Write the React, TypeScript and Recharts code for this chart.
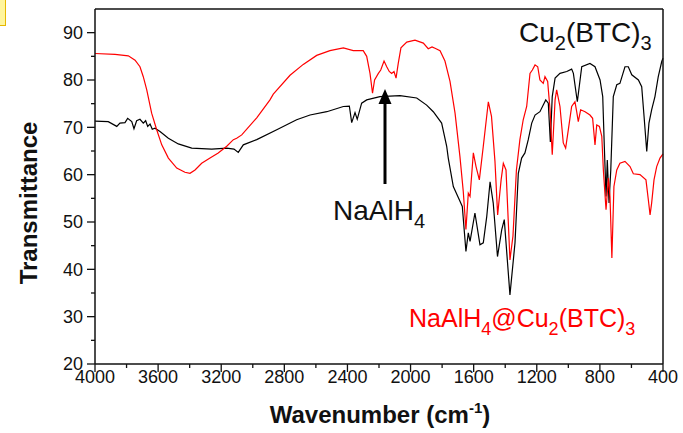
import React from "react";
import { LineChart, Line, XAxis, YAxis } from "recharts";

const FONT = "'Liberation Sans', Arial, Helvetica, sans-serif";

// Cu2(BTC)3 spectrum (black)
const cuWn = [4000, 3916, 3862, 3842, 3810, 3793, 3767, 3753, 3736, 3715, 3694, 3679, 3666, 3651, 3637, 3620, 3588, 3535, 3472, 3387, 3260, 3165, 3119, 3092, 3060, 2975, 2848, 2722, 2637, 2531, 2426, 2388, 2373, 2352, 2338, 2310, 2278, 2194, 2067, 1961, 1898, 1856, 1803, 1771, 1761, 1729, 1691, 1672, 1649, 1634, 1623, 1592, 1560, 1539, 1517, 1496, 1476, 1449, 1422, 1406, 1370, 1338, 1317, 1296, 1275, 1254, 1232, 1211, 1180, 1159, 1143, 1127, 1114, 1102, 1084, 1053, 1010, 979, 968, 943, 915, 863, 831, 799, 782, 772, 761, 753, 742, 731, 715, 693, 673, 641, 620, 598, 556, 535, 520, 503, 489, 472, 451, 430, 408, 400];
const cuT = [71.3, 71.2, 70.2, 70.9, 71.0, 71.9, 71.2, 69.7, 71.4, 71.7, 70.9, 71.4, 70.2, 70.7, 69.6, 69.8, 69.1, 67.7, 66.5, 65.6, 65.4, 65.6, 65.4, 64.7, 66.3, 67.4, 69.5, 71.6, 72.6, 73.3, 74.4, 74.5, 71.0, 73.1, 71.7, 75.1, 75.8, 76.5, 76.7, 76.2, 74.7, 73.3, 70.9, 66.0, 63.5, 57.5, 54.7, 53.3, 43.8, 47.7, 45.9, 51.9, 45.2, 45.6, 51.2, 58.5, 54.0, 42.7, 48.4, 50.5, 34.6, 45.6, 60.3, 63.5, 64.6, 67.4, 70.9, 72.6, 73.3, 74.7, 75.8, 75.1, 66.9, 76.5, 80.4, 81.4, 81.8, 82.3, 81.4, 75.4, 82.8, 83.5, 82.8, 80.0, 76.5, 66.0, 55.4, 63.1, 54.0, 61.0, 76.5, 79.0, 79.3, 82.8, 82.8, 81.1, 80.0, 78.6, 72.3, 64.9, 70.9, 73.7, 76.5, 80.7, 83.9, 84.6];

// NaAlH4@Cu2(BTC)3 spectrum (red)
const mixWn = [4000, 3873, 3789, 3746, 3715, 3694, 3672, 3641, 3609, 3577, 3535, 3482, 3430, 3398, 3366, 3324, 3271, 3219, 3165, 3123, 3102, 3070, 2975, 2891, 2870, 2764, 2680, 2595, 2511, 2426, 2363, 2300, 2278, 2257, 2241, 2228, 2204, 2189, 2168, 2151, 2135, 2120, 2105, 2092, 2078, 2061, 2024, 1972, 1919, 1888, 1864, 1845, 1813, 1782, 1750, 1718, 1687, 1666, 1649, 1634, 1623, 1602, 1585, 1564, 1539, 1507, 1487, 1465, 1448, 1426, 1412, 1395, 1370, 1351, 1329, 1307, 1286, 1264, 1243, 1228, 1211, 1194, 1180, 1159, 1148, 1131, 1116, 1102, 1084, 1074, 1053, 1032, 1017, 1000, 979, 958, 947, 937, 922, 894, 863, 846, 831, 820, 803, 788, 778, 761, 746, 736, 724, 711, 693, 673, 641, 609, 588, 546, 508, 493, 482, 472, 457, 440, 419, 400];
const mixT = [85.6, 85.4, 85.1, 84.2, 82.8, 80.7, 77.9, 73.0, 69.5, 66.3, 63.5, 61.4, 60.5, 60.3, 61.0, 62.4, 63.5, 64.6, 66.0, 67.4, 67.7, 68.4, 72.0, 75.8, 77.0, 81.0, 83.3, 85.2, 86.2, 86.8, 86.2, 86.2, 85.0, 81.4, 77.2, 80.0, 81.4, 82.1, 84.0, 82.8, 81.8, 81.4, 81.8, 80.4, 83.5, 86.8, 88.0, 88.4, 87.8, 86.6, 87.0, 86.7, 86.2, 84.0, 79.7, 73.0, 63.8, 56.5, 48.4, 56.1, 55.4, 64.6, 61.7, 58.9, 66.0, 75.4, 72.3, 62.8, 51.5, 58.9, 62.4, 61.0, 42.0, 47.0, 61.0, 67.4, 71.6, 74.4, 81.4, 82.1, 83.2, 82.8, 80.0, 79.3, 80.7, 79.7, 73.7, 64.2, 75.8, 77.9, 74.4, 66.7, 65.6, 69.5, 74.4, 75.4, 73.3, 71.2, 73.7, 73.3, 72.6, 71.9, 66.3, 70.5, 70.2, 68.1, 61.0, 52.6, 59.3, 55.4, 42.4, 57.5, 61.0, 62.4, 62.8, 61.7, 60.2, 60.0, 58.9, 54.7, 51.5, 54.0, 58.9, 61.7, 63.5, 64.4];

const xMajor = [4000, 3600, 3200, 2800, 2400, 2000, 1600, 1200, 800, 400];
const xTicks = [4000, 3800, 3600, 3400, 3200, 3000, 2800, 2600, 2400, 2200, 2000, 1800, 1600, 1400, 1200, 1000, 800, 600, 400];
const yMajor = [20, 30, 40, 50, 60, 70, 80, 90];
const yTicks = [20, 25, 30, 35, 40, 45, 50, 55, 60, 65, 70, 75, 80, 85, 90];

const cuBtc = cuWn.map((wn, i) => ({ wn, t: cuT[i] }));
const mix = mixWn.map((wn, i) => ({ wn, t: mixT[i] }));

const AXIS = "#111";

// bottom axis: long ticks with labels every 400, short ones in between
function BottomTick(props: any) {
  const { x, y, payload } = props;
  const axisY = y - 10;
  const major = xMajor.includes(payload.value);
  return (
    <g>
      <line x1={x} x2={x} y1={axisY} y2={axisY + (major ? 8 : 4)} stroke={AXIS} strokeWidth={1.3} />
      {major && (
        <text x={x} y={axisY + 19} textAnchor="middle" fontSize={18} fontFamily={FONT} fill="#111">
          {payload.value}
        </text>
      )}
    </g>
  );
}

function LeftTick(props: any) {
  const { x, y, payload } = props;
  const axisX = x + 10;
  const major = yMajor.includes(payload.value);
  return (
    <g>
      <line x1={axisX} x2={axisX - (major ? 8 : 4)} y1={y} y2={y} stroke={AXIS} strokeWidth={1.3} />
      {major && (
        <text x={axisX - 12} y={y} dy="0.36em" textAnchor="end" fontSize={18} fontFamily={FONT} fill="#111">
          {payload.value}
        </text>
      )}
    </g>
  );
}

export default function App() {
  return (
    <div style={{ position: "absolute", left: 0, top: 0, width: 683, height: 433, background: "#fff" }}>
      <LineChart width={683} height={433} margin={{ top: 9, right: 20, bottom: 0, left: 0 }}>
        <XAxis
          xAxisId="main"
          type="number"
          dataKey="wn"
          domain={[400, 4000]}
          reversed
          ticks={xTicks}
          interval={0}
          height={69}
          tickSize={8}
          tickMargin={2}
          tickLine={false}
          tick={<BottomTick />}
          axisLine={{ stroke: AXIS, strokeWidth: 1.5 }}
        />
        <XAxis
          xAxisId="top"
          type="number"
          dataKey="wn"
          orientation="top"
          mirror
          domain={[400, 4000]}
          reversed
          ticks={xTicks}
          interval={0}
          tickSize={3}
          tick={false}
          tickLine={{ stroke: AXIS, strokeWidth: 1 }}
          axisLine={{ stroke: AXIS, strokeWidth: 1.5 }}
        />
        <YAxis
          yAxisId="main"
          type="number"
          domain={[20, 95]}
          ticks={yTicks}
          interval={0}
          width={95}
          tickSize={8}
          tickMargin={2}
          tickLine={false}
          tick={<LeftTick />}
          axisLine={{ stroke: AXIS, strokeWidth: 1.5 }}
        />
        <YAxis
          yAxisId="right"
          type="number"
          orientation="right"
          mirror
          domain={[20, 95]}
          ticks={yTicks}
          interval={0}
          tickSize={3}
          tick={false}
          tickLine={{ stroke: AXIS, strokeWidth: 1 }}
          axisLine={{ stroke: AXIS, strokeWidth: 1.5 }}
        />
        <Line
          xAxisId="main"
          yAxisId="main"
          data={cuBtc}
          dataKey="t"
          type="linear"
          stroke="#000"
          strokeWidth={1.2}
          dot={false}
          isAnimationActive={false}
        />
        <Line
          xAxisId="main"
          yAxisId="main"
          data={mix}
          dataKey="t"
          type="linear"
          stroke="#ff0000"
          strokeWidth={1.2}
          dot={false}
          isAnimationActive={false}
        />
      </LineChart>

      <svg
        width={683}
        height={433}
        style={{ position: "absolute", left: 0, top: 0, pointerEvents: "none" }}
        fontFamily={FONT}
      >
        <text x={37} y={203} transform="rotate(-90 37 203)" textAnchor="middle" fontSize={24} fontWeight="bold" fill="#111">
          Transmittance
        </text>
        <text x={380} y={423} textAnchor="middle" fontSize={24} fontWeight="bold" fill="#111">
          Wavenumber (cm
          <tspan fontSize={15} dy={-10}>-1</tspan>
          <tspan dy={10}>)</tspan>
        </text>

        <text x={519} y={42} fontSize={28} fill="#111">
          Cu<tspan fontSize={20} dy={8}>2</tspan>
          <tspan dy={-8}>(BTC)</tspan>
          <tspan fontSize={20} dy={8}>3</tspan>
        </text>

        <text x={333} y={220} fontSize={28} fill="#111">
          NaAlH<tspan fontSize={20} dy={8}>4</tspan>
        </text>
        <line x1={385} x2={385} y1={184} y2={100} stroke="#000" strokeWidth={3} />
        <polygon points="385,89 378.5,104 391.5,104" fill="#000" />

        <text x={409} y={327} fontSize={25} fill="#ff0000">
          NaAlH<tspan fontSize={18} dy={8}>4</tspan>
          <tspan dy={-8}>@Cu</tspan>
          <tspan fontSize={18} dy={8}>2</tspan>
          <tspan dy={-8}>(BTC)</tspan>
          <tspan fontSize={18} dy={8}>3</tspan>
        </text>
      </svg>

      <div
        style={{
          position: "absolute",
          left: 0,
          top: 0,
          width: 5,
          height: 25,
          background: "#fff59d",
          borderRight: "1.5px solid #e6b800",
          borderBottom: "1.5px solid #e6b800",
        }}
      />
    </div>
  );
}
